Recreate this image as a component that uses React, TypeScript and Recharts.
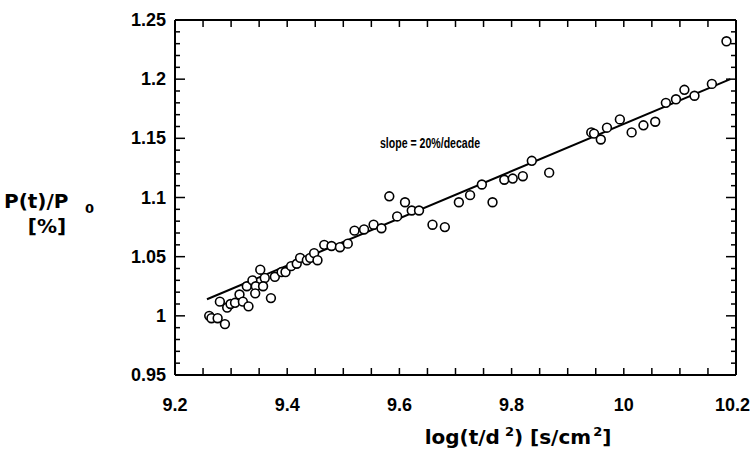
import React from 'react';
import { ScatterChart, Scatter, XAxis, YAxis } from 'recharts';

// Measured points: log(t/d^2) and P(t)/P0
const logT = [
  9.261, 9.265, 9.276, 9.289, 9.280, 9.293, 9.299, 9.307, 9.315, 9.321,
  9.331, 9.328, 9.338, 9.344, 9.343, 9.352, 9.360, 9.357, 9.371, 9.378,
  9.390, 9.397, 9.407, 9.417, 9.423, 9.435, 9.441, 9.448, 9.454, 9.466,
  9.479, 9.494, 9.508, 9.520, 9.537, 9.554, 9.568, 9.582, 9.596, 9.610,
  9.622, 9.635, 9.659, 9.681, 9.706, 9.726, 9.747, 9.766, 9.787, 9.802,
  9.820, 9.836, 9.867, 9.942, 9.947, 9.959, 9.970, 9.993, 10.014, 10.035,
  10.056, 10.075, 10.093, 10.108, 10.126, 10.157, 10.183,
];
const ratio = [
  1.000, 0.998, 0.998, 0.993, 1.012, 1.007, 1.010, 1.011, 1.018, 1.012,
  1.008, 1.025, 1.030, 1.025, 1.019, 1.039, 1.032, 1.025, 1.015, 1.033,
  1.037, 1.037, 1.042, 1.044, 1.049, 1.047, 1.049, 1.053, 1.047, 1.060,
  1.059, 1.058, 1.061, 1.072, 1.073, 1.077, 1.074, 1.101, 1.084, 1.096,
  1.089, 1.089, 1.077, 1.075, 1.096, 1.102, 1.111, 1.096, 1.115, 1.116,
  1.118, 1.131, 1.121, 1.155, 1.154, 1.149, 1.159, 1.166, 1.155, 1.161,
  1.164, 1.180, 1.183, 1.191, 1.186, 1.196, 1.232,
];

// Fitted line endpoints (slope = 20%/decade)
const fitX = [9.257, 10.19];
const fitY = [1.014, 1.2];

// Axis ticks
const xTicks = [
  9.2, 9.25, 9.3, 9.35, 9.4, 9.45, 9.5, 9.55, 9.6, 9.65, 9.7,
  9.75, 9.8, 9.85, 9.9, 9.95, 10, 10.05, 10.1, 10.15, 10.2,
];
const xLabels = [9.2, 9.4, 9.6, 9.8, 10, 10.2];
const yTicks = [
  0.95, 0.96, 0.97, 0.98, 0.99, 1, 1.01, 1.02, 1.03, 1.04, 1.05,
  1.06, 1.07, 1.08, 1.09, 1.1, 1.11, 1.12, 1.13, 1.14, 1.15,
  1.16, 1.17, 1.18, 1.19, 1.2, 1.21, 1.22, 1.23, 1.24, 1.25,
];
const yLabels = [0.95, 1, 1.05, 1.1, 1.15, 1.2, 1.25];

const points = logT.map((x, i) => ({ x, y: ratio[i] }));
const fitLine = fitX.map((x, i) => ({ x, y: fitY[i] }));

const TICK_FONT = '"Liberation Sans", Arial, sans-serif';
const TITLE_FONT = '"DejaVu Sans", sans-serif';

const isIn = (arr: number[], v: number) => arr.some((a) => Math.abs(a - v) < 1e-6);

const BottomTick = (props: any) => {
  const { x, y, payload } = props;
  const v = payload.value;
  const last = Math.abs(v - 10.2) < 1e-6;
  return (
    <g>
      <line x1={x} y1={y} x2={x} y2={y - 7} stroke="#000" strokeWidth={1.5} />
      {isIn(xLabels, v) && (
        <text
          x={last ? x + 14 : x}
          y={y + 36}
          textAnchor={last ? 'end' : 'middle'}
          fontFamily={TICK_FONT}
          fontWeight="bold"
          fontSize={18}
          fill="#000"
        >
          {String(v)}
        </text>
      )}
    </g>
  );
};

const TopTick = (props: any) => {
  const { x, y } = props;
  return <line x1={x} y1={y} x2={x} y2={y + 7} stroke="#000" strokeWidth={1.5} />;
};

const LeftTick = (props: any) => {
  const { x, y, payload } = props;
  const v = payload.value;
  const major = isIn(yLabels, v);
  return (
    <g>
      <line x1={x} y1={y} x2={x + (major ? 10 : 5)} y2={y} stroke="#000" strokeWidth={1.5} />
      {major && (
        <text x={x - 9} y={y + 6} textAnchor="end" fontFamily={TICK_FONT} fontWeight="bold" fontSize={18} fill="#000">
          {String(v)}
        </text>
      )}
    </g>
  );
};

const RightTick = (props: any) => {
  const { x, y, payload } = props;
  const major = isIn(yLabels, payload.value);
  return <line x1={x} y1={y} x2={x - (major ? 10 : 5)} y2={y} stroke="#000" strokeWidth={1.5} />;
};

const Dot = (props: any) => {
  const { cx, cy } = props;
  if (cx == null || cy == null) return <g />;
  return <circle cx={cx} cy={cy} r={4.4} fill="#fff" stroke="#000" strokeWidth={1.6} />;
};

const NoDot = () => <g />;

const axisLine = { stroke: '#000', strokeWidth: 2 };

export default function App() {
  return (
    <div style={{ position: 'absolute', left: 0, top: 0, width: 750, height: 453, background: '#fff' }}>
      <ScatterChart width={750} height={453} margin={{ top: 0, right: 0, bottom: 0, left: 0 }}>
        <XAxis
          xAxisId="b"
          type="number"
          dataKey="x"
          domain={[9.2, 10.2]}
          ticks={xTicks}
          interval={0}
          allowDataOverflow
          orientation="bottom"
          height={78}
          tickSize={0}
          tickMargin={0}
          tickLine={false}
          axisLine={axisLine}
          tick={<BottomTick />}
        />
        <XAxis
          xAxisId="t"
          type="number"
          dataKey="x"
          domain={[9.2, 10.2]}
          ticks={xTicks}
          interval={0}
          allowDataOverflow
          orientation="top"
          height={20}
          tickSize={0}
          tickMargin={0}
          tickLine={false}
          axisLine={axisLine}
          tick={<TopTick />}
        />
        <YAxis
          yAxisId="l"
          type="number"
          dataKey="y"
          domain={[0.95, 1.25]}
          ticks={yTicks}
          interval={0}
          allowDataOverflow
          orientation="left"
          width={175}
          tickSize={0}
          tickMargin={0}
          tickLine={false}
          axisLine={axisLine}
          tick={<LeftTick />}
        />
        <YAxis
          yAxisId="r"
          type="number"
          dataKey="y"
          domain={[0.95, 1.25]}
          ticks={yTicks}
          interval={0}
          allowDataOverflow
          orientation="right"
          width={14}
          tickSize={0}
          tickMargin={0}
          tickLine={false}
          axisLine={axisLine}
          tick={<RightTick />}
        />
        <Scatter
          xAxisId="b"
          yAxisId="l"
          data={fitLine}
          line={{ stroke: '#000', strokeWidth: 2 }}
          shape={<NoDot />}
          isAnimationActive={false}
        />
        <Scatter
          xAxisId="b"
          yAxisId="l"
          data={points}
          shape={<Dot />}
          isAnimationActive={false}
        />
      </ScatterChart>
      <svg width={750} height={453} style={{ position: 'absolute', left: 0, top: 0, pointerEvents: 'none' }}>
        <text x={4} y={208} fontFamily={TITLE_FONT} fontWeight="bold" fontSize={20} fill="#000">P(t)/P</text>
        <text x={85} y={213} fontFamily={TITLE_FONT} fontWeight="bold" fontSize={13} fill="#000">0</text>
        <text x={47} y={233} textAnchor="middle" fontFamily={TITLE_FONT} fontWeight="bold" fontSize={20} fill="#000">[%]</text>
        <text x={518} y={444} textAnchor="middle" fontFamily={TITLE_FONT} fontWeight="bold" fontSize={20} fill="#000">
          log(t/d
          <tspan dx={5} dy={-8} fontSize={13}>2</tspan>
          <tspan dy={8}>) [s/cm</tspan>
          <tspan dx={2} dy={-8} fontSize={13}>2</tspan>
          <tspan dy={8}>]</tspan>
        </text>
        <text
          x={380}
          y={148}
          textLength={100}
          lengthAdjust="spacingAndGlyphs"
          fontFamily={TICK_FONT}
          fontWeight="bold"
          fontSize={14}
          fill="#000"
        >
          slope = 20%/decade
        </text>
      </svg>
    </div>
  );
}
